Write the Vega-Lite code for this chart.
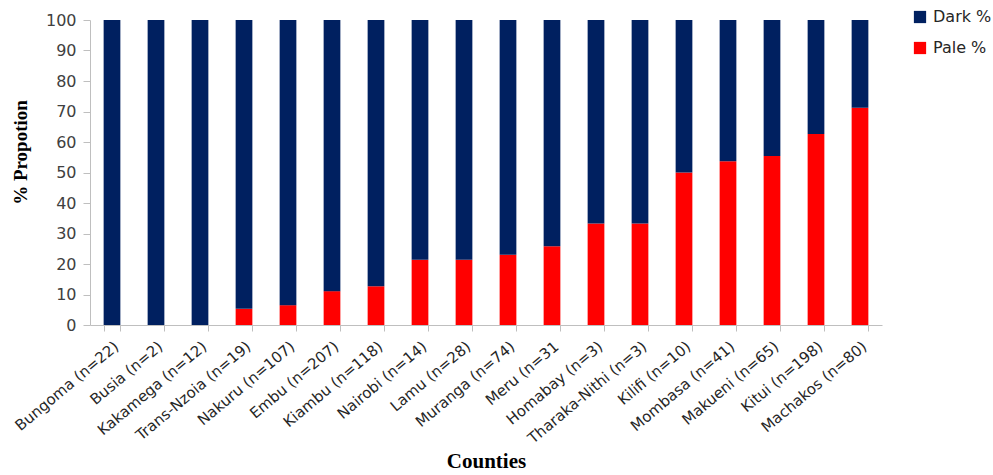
{
  "$schema": "https://vega.github.io/schema/vega-lite/v6.json",
  "width": 792,
  "height": 305,
  "autosize": {"type": "none"},
  "padding": {"left": 90, "top": 20, "right": 111, "bottom": 150},
  "background": "white",
  "config": {"view": {"stroke": null}},
  "data": {
    "values": [
      {"county": "Bungoma (n=22)", "type": "Pale %", "pct": 0},
      {"county": "Bungoma (n=22)", "type": "Dark %", "pct": 100},
      {"county": "Busia (n=2)", "type": "Pale %", "pct": 0},
      {"county": "Busia (n=2)", "type": "Dark %", "pct": 100},
      {"county": "Kakamega (n=12)", "type": "Pale %", "pct": 0},
      {"county": "Kakamega (n=12)", "type": "Dark %", "pct": 100},
      {"county": "Trans-Nzoia (n=19)", "type": "Pale %", "pct": 5.3},
      {"county": "Trans-Nzoia (n=19)", "type": "Dark %", "pct": 94.7},
      {"county": "Nakuru (n=107)", "type": "Pale %", "pct": 6.5},
      {"county": "Nakuru (n=107)", "type": "Dark %", "pct": 93.5},
      {"county": "Embu (n=207)", "type": "Pale %", "pct": 11.1},
      {"county": "Embu (n=207)", "type": "Dark %", "pct": 88.9},
      {"county": "Kiambu (n=118)", "type": "Pale %", "pct": 12.7},
      {"county": "Kiambu (n=118)", "type": "Dark %", "pct": 87.3},
      {"county": "Nairobi (n=14)", "type": "Pale %", "pct": 21.4},
      {"county": "Nairobi (n=14)", "type": "Dark %", "pct": 78.6},
      {"county": "Lamu (n=28)", "type": "Pale %", "pct": 21.4},
      {"county": "Lamu (n=28)", "type": "Dark %", "pct": 78.6},
      {"county": "Muranga (n=74)", "type": "Pale %", "pct": 23.0},
      {"county": "Muranga (n=74)", "type": "Dark %", "pct": 77.0},
      {"county": "Meru (n=31", "type": "Pale %", "pct": 25.8},
      {"county": "Meru (n=31", "type": "Dark %", "pct": 74.2},
      {"county": "Homabay (n=3)", "type": "Pale %", "pct": 33.3},
      {"county": "Homabay (n=3)", "type": "Dark %", "pct": 66.7},
      {"county": "Tharaka-Nithi (n=3)", "type": "Pale %", "pct": 33.3},
      {"county": "Tharaka-Nithi (n=3)", "type": "Dark %", "pct": 66.7},
      {"county": "Kilifi (n=10)", "type": "Pale %", "pct": 50.0},
      {"county": "Kilifi (n=10)", "type": "Dark %", "pct": 50.0},
      {"county": "Mombasa (n=41)", "type": "Pale %", "pct": 53.7},
      {"county": "Mombasa (n=41)", "type": "Dark %", "pct": 46.3},
      {"county": "Makueni (n=65)", "type": "Pale %", "pct": 55.4},
      {"county": "Makueni (n=65)", "type": "Dark %", "pct": 44.6},
      {"county": "Kitui (n=198)", "type": "Pale %", "pct": 62.6},
      {"county": "Kitui (n=198)", "type": "Dark %", "pct": 37.4},
      {"county": "Machakos (n=80)", "type": "Pale %", "pct": 71.25},
      {"county": "Machakos (n=80)", "type": "Dark %", "pct": 28.75}
    ]
  },
  "mark": {"type": "bar"},
  "encoding": {
    "x": {
      "field": "county",
      "type": "nominal",
      "sort": null,
      "scale": {"paddingInner": 0.62, "paddingOuter": 0.31},
      "axis": {
        "title": "Counties",
        "titleFont": "Liberation Serif",
        "titleFontSize": 21,
        "titleFontWeight": "bold",
        "titleColor": "black",
        "titleY": 136,
        "titleBaseline": "middle",
        "labelAngle": -40,
        "labelAlign": "right",
        "labelBaseline": "middle",
        "labelPadding": 13,
        "labelOffset": 4,
        "labelFont": "DejaVu Sans",
        "labelFontSize": 15,
        "labelColor": "#262626",
        "labelOverlap": false,
        "tickBand": "extent",
        "tickSize": 6,
        "tickColor": "#bfbfbf",
        "domainColor": "#bfbfbf"
      }
    },
    "y": {
      "field": "pct",
      "type": "quantitative",
      "stack": "zero",
      "scale": {"domain": [0, 100], "nice": false},
      "axis": {
        "title": "% Propotion",
        "titleFont": "Liberation Serif",
        "titleFontSize": 19,
        "titleFontWeight": "bold",
        "titleColor": "black",
        "titleX": -70,
        "titleY": 132,
        "titleAlign": "center",
        "titleBaseline": "middle",
        "values": [0, 10, 20, 30, 40, 50, 60, 70, 80, 90, 100],
        "grid": false,
        "labelFont": "DejaVu Sans",
        "labelFontSize": 16,
        "labelColor": "#404040",
        "labelPadding": 7,
        "tickSize": 7,
        "tickColor": "#bfbfbf",
        "domainColor": "#bfbfbf"
      }
    },
    "color": {
      "field": "type",
      "type": "nominal",
      "scale": {"domain": ["Dark %", "Pale %"], "range": ["#002060", "#ff0000"]},
      "legend": {
        "title": null,
        "orient": "none",
        "legendX": 822,
        "legendY": -11,
        "symbolType": "square",
        "symbolSize": 150,
        "symbolStrokeWidth": 0,
        "labelFont": "DejaVu Sans",
        "labelFontSize": 16,
        "labelColor": "#262626",
        "rowPadding": 15,
        "labelOffset": 5
      }
    },
    "order": {"field": "type", "sort": "descending"}
  }
}
